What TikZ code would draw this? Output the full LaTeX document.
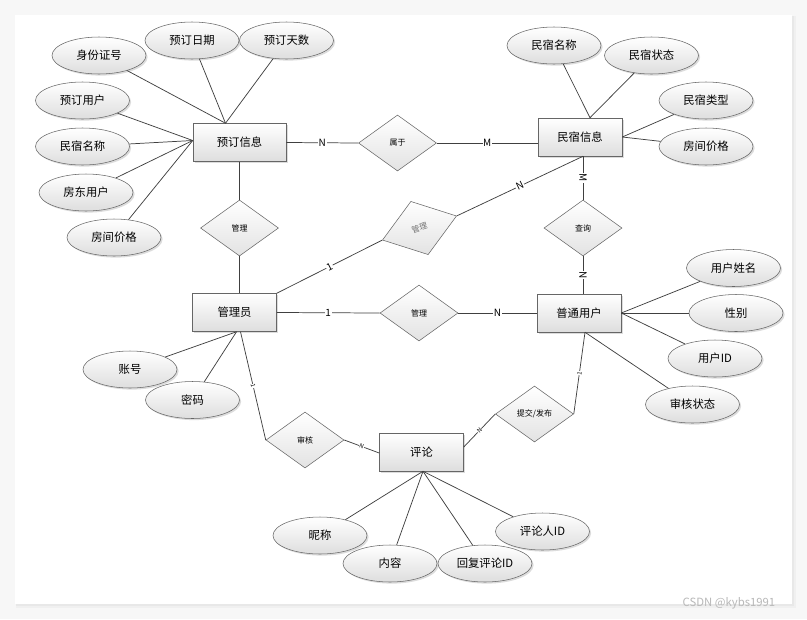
\documentclass[tikz,border=0pt]{standalone}
\usepackage{fontspec}
\setmainfont{Noto Sans CJK SC}
\usetikzlibrary{shapes.geometric,calc,shadows}
\begin{document}
\begin{tikzpicture}[x=0.75pt,y=-0.75pt,
  shd/.style={drop shadow={shadow xshift=1.2pt,shadow yshift=-1.2pt,fill=black!30,opacity=0.45}},
  ent/.style={draw=black!60, top color=white, bottom color=black!13, minimum width=63pt, minimum height=28.5pt, inner sep=0pt, font=\fontsize{8.5}{10}\selectfont, shd},
  attr/.style={ellipse, draw=black!60, top color=white, bottom color=black!13, minimum width=70.5pt, minimum height=27.75pt, inner sep=0pt, font=\fontsize{8.5}{10}\selectfont, shd},
  rel/.style={diamond, draw=black!60, top color=white, bottom color=black!11, minimum width=58.5pt, minimum height=42pt, inner sep=0pt, font=\fontsize{6}{7}\selectfont},
  ln/.style={draw=black!75, line width=0.55pt},
  lab/.style={fill=white, inner sep=0.5pt, font=\fontsize{7.5}{8}\selectfont},
  tiny/.style={fill=white, inner sep=0.3pt, font=\fontsize{4.5}{5}\selectfont, sloped},
]
\useasboundingbox (0,0) rectangle (807,619);
% background and card
\fill[black!3] (0,0) rectangle (807,619);
\fill[black!6] (16,16) rectangle (796,608);
\fill[black!9] (16,16) rectangle (794,606);
\fill[white] (15,15) rectangle (792,604);

% entities
\node[ent, minimum width=69.75pt] (yd)  at (239.5,142.5) {预订信息};
\node[ent] (mx)  at (580,137)     {民宿信息};
\node[ent] (gly) at (234.5,312.5) {管理员};
\node[ent] (pt)  at (579,313)     {普通用户};
\node[ent] (pl)  at (421.5,452)   {评论};

% relationships
\node[rel] (sy)  at (397.5,143) {属于};
\node[rel] (gl1) at (239.5,228) {管理};
\node[rel] (cx)  at (583,228)   {查询};
\node[rel] (gl3) at (419,313)   {管理};
\node[rel, rotate=18, text=black!55] (gl2) at (419.5,228) {管理};
\node[rel] (sh)  at (305,440)   {审核};
\node[rel] (tj)  at (534.5,414) {提交/发布};

% attributes
\node[attr] (a1) at (99,55.5)    {身份证号};
\node[attr] (a2) at (192,40.5)   {预订日期};
\node[attr] (a3) at (286.5,40.5) {预订天数};
\node[attr] (a4) at (82.5,100.5) {预订用户};
\node[attr] (a5) at (82.5,146.5) {民宿名称};
\node[attr] (a6) at (86,192.5)   {房东用户};
\node[attr] (a7) at (114,237.5)  {房间价格};

\node[attr] (b1) at (554,45.5)   {民宿名称};
\node[attr] (b2) at (651.5,55.5) {民宿状态};
\node[attr] (b3) at (706,100.5)  {民宿类型};
\node[attr] (b4) at (706,146.5)  {房间价格};

\node[attr] (c1) at (130,369.5)  {账号};
\node[attr] (c2) at (192.5,400)  {密码};

\node[attr] (d1) at (733.5,268)  {用户姓名};
\node[attr] (d2) at (736,313)    {性别};
\node[attr] (d3) at (715,358.5)  {用户ID};
\node[attr] (d4) at (692.5,404.5) {审核状态};

\node[attr] (e1) at (320,535.5)  {昵称};
\node[attr] (e2) at (390,563.5)  {内容};
\node[attr] (e3) at (485,563.5)  {回复评论ID};
\node[attr] (e4) at (542.5,531.5) {评论人ID};

% converge points
\coordinate (ydT) at ($(yd.north)+(-14,0)$);
\coordinate (ydL) at ($(yd.west)+(0,-2)$);
\coordinate (mxT) at ($(mx.north)+(10,0)$);
\coordinate (mxB) at ($(mx.south)+(3,0)$);
\coordinate (glyB) at ($(gly.south)+(2,0)$);
\coordinate (ptB) at ($(pt.south)+(6,0)$);
\coordinate (plB) at ($(pl.south)+(1.5,0)$);

% attribute lines
\draw[ln] (a1) -- (ydT);
\draw[ln] (a2) -- (ydT);
\draw[ln] (a3) -- (ydT);
\draw[ln] (a4) -- (ydL);
\draw[ln] (a5) -- (ydL);
\draw[ln] (a6) -- (ydL);
\draw[ln] (a7) -- (ydL);
\draw[ln] (b1) -- (mxT);
\draw[ln] (b2) -- (mxT);
\draw[ln] (b3) -- (mx.east);
\draw[ln] (b4) -- (mx.east);
\draw[ln] (c1) -- (glyB);
\draw[ln] (c2) -- (glyB);
\draw[ln] (d1) -- (pt.east);
\draw[ln] (d2) -- (pt.east);
\draw[ln] (d3) -- (pt.east);
\draw[ln] (d4) -- (ptB);
\draw[ln] (e1) -- (plB);
\draw[ln] (e2) -- (plB);
\draw[ln] (e3) -- (plB);
\draw[ln] (e4) -- (plB);

% relationship lines
\draw[ln] (yd.east) -- node[lab] {N} (sy.west);
\draw[ln] (sy.east) -- node[lab] {M} ($(mx.west)+(0,6)$);
\draw[ln] (yd.south -| gl1) -- (gl1.north);
\draw[ln] (gl1.south) -- (gl1 |- gly.north);
\draw[ln] (mxB) -- node[lab, sloped] {M} (cx.north);
\draw[ln] (cx.south) -- node[lab, sloped] {N} (cx |- pt.north);
\draw[ln] (gly.east) -- node[lab] {1} (gl3.west);
\draw[ln] (gl3.east) -- node[lab] {N} (pt.west);
\draw[ln] (gly.north east) -- node[lab, sloped] {1} (gl2.west);
\draw[ln] (gl2.east) -- node[lab, sloped] {N} (mxB);
\draw[ln] ($(gly.south)+(6,0)$) -- node[tiny] {1} (sh.west);
\draw[ln] (sh.east) -- node[tiny] {N} ($(pl.west)+(0,1)$);
\draw[ln] ($(pl.east)+(0,-5)$) -- node[tiny] {N} (tj.west);
\draw[ln] (tj.east) -- node[tiny] {1} (ptB);

% watermark
\node[text=black!28, font=\fontsize{8.5}{10}\selectfont] (wm) at (729,603) {CSDN @kybs1991};
\end{tikzpicture}
\end{document}
